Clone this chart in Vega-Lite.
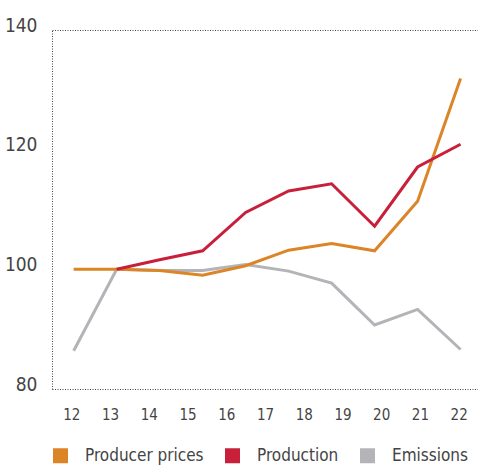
{
  "$schema": "https://vega.github.io/schema/vega-lite/v6.json",
  "width": 426,
  "height": 359,
  "autosize": {"type": "none"},
  "padding": {"left": 52, "top": 30, "right": 0, "bottom": 78},
  "background": "white",
  "config": {"view": {"stroke": null}, "font": "DejaVu Sans Condensed, sans-serif"},
  "data": {
    "values": [
      {"series": "Emissions", "year": 12.06, "value": 86.4},
      {"series": "Emissions", "year": 13.17, "value": 100.0},
      {"series": "Emissions", "year": 14.28, "value": 99.8},
      {"series": "Emissions", "year": 15.39, "value": 99.8},
      {"series": "Emissions", "year": 16.5, "value": 100.8},
      {"series": "Emissions", "year": 17.61, "value": 99.7},
      {"series": "Emissions", "year": 18.72, "value": 97.7},
      {"series": "Emissions", "year": 19.83, "value": 90.7},
      {"series": "Emissions", "year": 20.94, "value": 93.3},
      {"series": "Emissions", "year": 22.05, "value": 86.6},
      {"series": "Producer prices", "year": 12.06, "value": 100.0},
      {"series": "Producer prices", "year": 13.17, "value": 100.0},
      {"series": "Producer prices", "year": 14.28, "value": 99.8},
      {"series": "Producer prices", "year": 15.39, "value": 99.0},
      {"series": "Producer prices", "year": 16.5, "value": 100.6},
      {"series": "Producer prices", "year": 17.61, "value": 103.2},
      {"series": "Producer prices", "year": 18.72, "value": 104.3},
      {"series": "Producer prices", "year": 19.83, "value": 103.1},
      {"series": "Producer prices", "year": 20.94, "value": 111.4},
      {"series": "Producer prices", "year": 22.05, "value": 131.9},
      {"series": "Production", "year": 13.17, "value": 100.0},
      {"series": "Production", "year": 14.28, "value": 101.6},
      {"series": "Production", "year": 15.39, "value": 103.1},
      {"series": "Production", "year": 16.5, "value": 109.5},
      {"series": "Production", "year": 17.61, "value": 113.1},
      {"series": "Production", "year": 18.72, "value": 114.3},
      {"series": "Production", "year": 19.83, "value": 107.2},
      {"series": "Production", "year": 20.94, "value": 117.1},
      {"series": "Production", "year": 22.05, "value": 120.9}
    ]
  },
  "mark": {"type": "line", "strokeWidth": 3},
  "encoding": {
    "x": {
      "field": "year",
      "type": "quantitative",
      "scale": {"domain": [11.5, 22.5], "nice": false, "zero": false},
      "axis": {
        "values": [12, 13, 14, 15, 16, 17, 18, 19, 20, 21, 22],
        "format": "d",
        "title": null,
        "grid": false,
        "ticks": false,
        "tickSize": 0,
        "domainColor": "#444444",
        "domainDash": [1, 1.5],
        "domainWidth": 1,
        "labelFontSize": 15,
        "labelColor": "#444444",
        "labelBaseline": "alphabetic",
        "labelPadding": 30,
        "labelFlush": false
      }
    },
    "y": {
      "field": "value",
      "type": "quantitative",
      "scale": {"domain": [80, 140], "nice": false, "zero": false},
      "axis": {
        "values": [80, 100, 120, 140],
        "title": null,
        "ticks": false,
        "tickSize": 0,
        "domainColor": "#444444",
        "domainDash": [1, 1.5],
        "domainWidth": 1,
        "labelFontSize": 19,
        "labelColor": "#444444",
        "labelPadding": 15,
        "labelBaseline": "alphabetic",
        "labelOffset": 1,
        "labelFlush": false,
        "grid": true,
        "gridDash": [1, 1.5],
        "gridColor": "#444444",
        "gridWidth": 1,
        "gridOpacity": {"condition": {"test": "datum.value === 140", "value": 1}, "value": 0}
      }
    },
    "color": {
      "field": "series",
      "type": "nominal",
      "scale": {
        "domain": ["Producer prices", "Production", "Emissions"],
        "range": ["#dc8527", "#c8203a", "#b4b4b8"]
      },
      "legend": {
        "title": null,
        "orient": "none",
        "legendX": 0,
        "legendY": 417,
        "direction": "horizontal",
        "symbolType": "square",
        "symbolSize": 225,
        "symbolStrokeWidth": 0,
        "symbolOpacity": 1,
        "labelFontSize": 17,
        "labelColor": "#444444",
        "labelOffset": 16,
        "columnPadding": 20,
        "padding": 0,
        "encode": {
          "symbols": {"update": {"fill": {"scale": "color", "field": "value"}, "fillOpacity": {"value": 1}}}
        }
      }
    }
  }
}
